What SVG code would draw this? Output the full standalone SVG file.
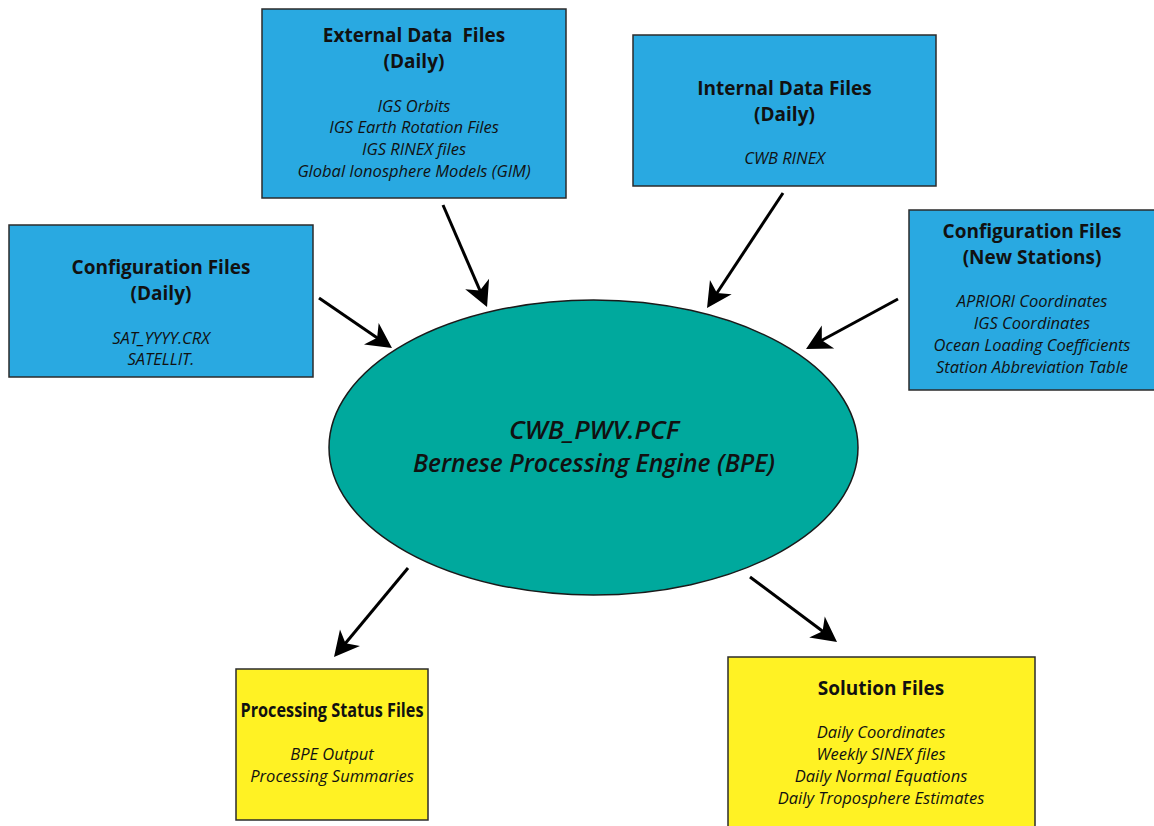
<svg xmlns="http://www.w3.org/2000/svg" width="1154" height="826" viewBox="0 0 1154 826">
<style>
.box{stroke:#2b2b2b;stroke-width:1.5}
.blue{fill:#29A9E1}
.yellow{fill:#FFF224}
.t{font-family:"Open Sans","Liberation Sans",sans-serif;font-weight:700;font-size:19px;fill:#111;text-anchor:middle}
.i{font-family:"Open Sans","Liberation Sans",sans-serif;font-style:italic;font-size:16.5px;fill:#111;text-anchor:middle}
.e{font-family:"Open Sans","Liberation Sans",sans-serif;font-style:italic;font-weight:600;font-size:25px;fill:#111;text-anchor:middle}
.c{stroke:#000;stroke-width:3;fill:none;marker-end:url(#ah)}
</style>
<defs>
<marker id="ah" markerUnits="userSpaceOnUse" viewBox="-11 -14 27 28" refX="0" refY="0" markerWidth="27" markerHeight="28" orient="auto">
<path d="M15,0 L-10,-13 L-3,0 L-10,13 Z" fill="#000"/>
</marker>
</defs>
<rect width="1154" height="826" fill="#fff"/>
<g id="external">
<rect class="box blue" x="262" y="9" width="304" height="189"/>
<text class="t" x="414" y="42" xml:space="preserve">External Data  Files</text>
<text class="t" x="414" y="68">(Daily)</text>
<text class="i" x="414" y="112">IGS Orbits</text>
<text class="i" x="414" y="133">IGS Earth Rotation Files</text>
<text class="i" x="414" y="155">IGS RINEX files</text>
<text class="i" x="414" y="177">Global Ionosphere Models (GIM)</text>
</g>
<g id="internal">
<rect class="box blue" x="633" y="35" width="303" height="151"/>
<text class="t" x="784.5" y="95">Internal Data Files</text>
<text class="t" x="784.5" y="121">(Daily)</text>
<text class="i" x="784.5" y="164">CWB RINEX</text>
</g>
<g id="config-daily">
<rect class="box blue" x="9" y="225" width="304" height="152"/>
<text class="t" x="161" y="274">Configuration Files</text>
<text class="t" x="161" y="300">(Daily)</text>
<text class="i" x="161" y="344">SAT_YYYY.CRX</text>
<text class="i" x="161" y="365">SATELLIT.</text>
</g>
<g id="config-new">
<rect class="box blue" x="909" y="210" width="250" height="180"/>
<text class="t" x="1032" y="238">Configuration Files</text>
<text class="t" x="1032" y="264">(New Stations)</text>
<text class="i" x="1032" y="307">APRIORI Coordinates</text>
<text class="i" x="1032" y="329">IGS Coordinates</text>
<text class="i" x="1032" y="351">Ocean Loading Coefficients</text>
<text class="i" x="1032" y="373">Station Abbreviation Table</text>
</g>
<g id="bpe">
<ellipse cx="593.5" cy="447.5" rx="264.5" ry="147.5" fill="#00A99D" stroke="#1a1a1a" stroke-width="1.5"/>
<text class="e" x="594" y="439" textLength="170" lengthAdjust="spacingAndGlyphs">CWB_PWV.PCF</text>
<text class="e" x="594" y="472" textLength="362" lengthAdjust="spacingAndGlyphs">Bernese Processing Engine (BPE)</text>
</g>
<g id="status">
<rect class="box yellow" x="236" y="669" width="192" height="151"/>
<text class="t" x="332" y="717" textLength="183" lengthAdjust="spacingAndGlyphs">Processing Status Files</text>
<text class="i" x="332" y="760">BPE Output</text>
<text class="i" x="332" y="782">Processing Summaries</text>
</g>
<g id="solution">
<rect class="box yellow" x="728" y="657" width="307" height="180"/>
<text class="t" x="881" y="695">Solution Files</text>
<text class="i" x="881" y="738">Daily Coordinates</text>
<text class="i" x="881" y="760">Weekly SINEX files</text>
<text class="i" x="881" y="782">Daily Normal Equations</text>
<text class="i" x="881" y="804">Daily Troposphere Estimates</text>
</g>
<g id="connectors">
<line class="c" x1="443" y1="205" x2="481.1" y2="293.2"/>
<line class="c" x1="783" y1="193" x2="715.3" y2="295.5"/>
<line class="c" x1="319" y1="298" x2="379.6" y2="339.5"/>
<line class="c" x1="898" y1="299" x2="819.2" y2="341.8"/>
<line class="c" x1="408" y1="568" x2="343.6" y2="645.5"/>
<line class="c" x1="750" y1="577" x2="825" y2="633"/>
</g>
</svg>
